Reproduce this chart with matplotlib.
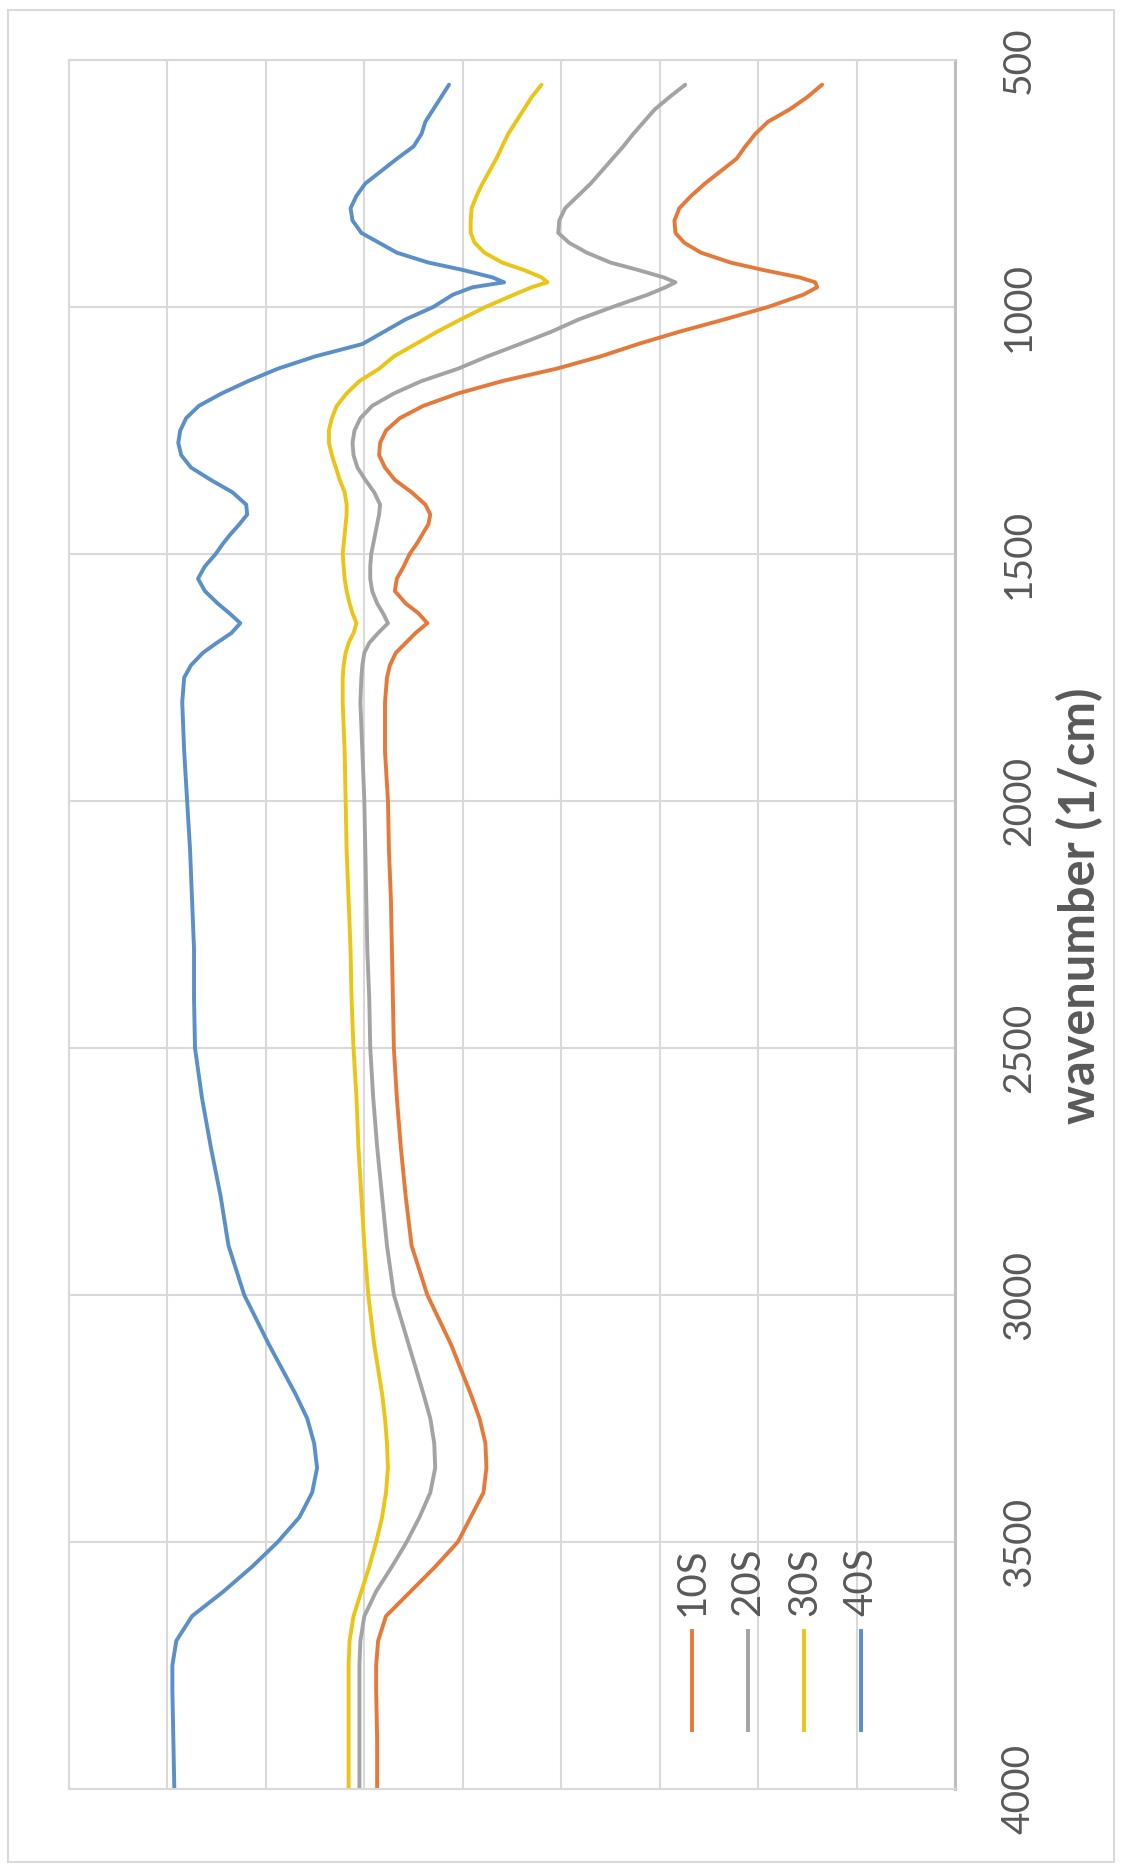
import matplotlib
matplotlib.use('Agg')
import matplotlib.pyplot as plt
from matplotlib.patches import Rectangle

plt.rcParams['font.family'] = ['Lato', 'DejaVu Sans']

# FTIR spectra, wavenumber (1/cm) vs transmittance (%)
wavenumber = [
    550, 575, 600, 625, 650, 675, 700, 725, 750, 775, 800, 825, 850,
    870, 890, 910, 925, 940, 950, 960, 975,
    1000, 1025, 1050, 1075, 1100, 1125, 1150, 1175, 1200, 1225, 1250, 1275, 1300, 1325, 1350, 1375, 1400,
    1420, 1440, 1460, 1480, 1500, 1525, 1550, 1575, 1600, 1620, 1640, 1660, 1680, 1700, 1725,
    1750, 1800, 1900, 2000, 2100, 2200, 2300, 2400, 2500, 2600, 2700, 2800, 2900, 3000,
    3100, 3200, 3250, 3300, 3350, 3400, 3450, 3500, 3550, 3600, 3650, 3700, 3750, 3800, 3900, 4000,
]

t_10s = [
    13.5, 15.0, 16.8, 19.0, 20.3, 21.3, 22.2, 23.8, 25.4, 26.8, 28.0, 28.5, 28.4,
    27.5, 25.8, 22.8, 19.5, 15.8, 14.2, 14.0, 15.4,
    19.0, 23.4, 28.0, 32.2, 36.0, 40.5, 46.0, 50.5, 54.0, 56.4, 57.8, 58.4, 58.5, 57.9, 56.9, 55.2, 53.8,
    53.3, 53.5, 54.1, 54.7, 55.4, 56.0, 56.7, 56.9, 55.8, 54.5, 53.6, 54.8, 55.8, 56.8, 57.4,
    57.7, 57.9, 57.9, 57.6, 57.5, 57.3, 57.2, 57.1, 57.0, 56.7, 56.3, 55.8, 55.2, 53.6,
    51.2, 49.2, 48.3, 47.7, 47.6, 47.9, 49.2, 50.5, 52.8, 55.3, 57.8, 58.6, 58.8, 58.8, 58.7, 58.7,
]

t_20s = [
    27.4, 29.0, 30.5, 31.6, 32.7, 33.7, 34.8, 35.9, 37.0, 38.3, 39.6, 40.2, 40.3,
    39.2, 37.4, 35.0, 32.2, 29.6, 28.4, 29.4, 31.2,
    34.8, 38.2, 41.0, 44.2, 47.5, 50.5, 54.2, 57.0, 59.2, 60.4, 61.0, 61.2, 61.1, 60.7, 59.9, 59.0, 58.4,
    58.5, 58.7, 58.9, 59.1, 59.3, 59.4, 59.4, 59.2, 58.7, 58.1, 57.6, 58.6, 59.5, 60.0, 60.2,
    60.3, 60.4, 60.2, 60.0, 59.9, 59.8, 59.7, 59.5, 59.4, 59.1, 58.7, 58.2, 57.7, 57.0,
    55.5, 54.0, 53.3, 52.9, 52.8, 53.3, 54.4, 55.7, 57.2, 58.8, 60.0, 60.4, 60.5, 60.5, 60.5, 60.5,
]

t_30s = [
    42.0, 43.0, 43.8, 44.6, 45.4, 46.0, 46.6, 47.3, 48.0, 48.6, 49.1, 49.2, 49.2,
    48.8, 47.8, 46.0, 43.8, 42.0, 41.4, 43.0, 44.8,
    47.7, 50.2, 52.6, 54.8, 57.0, 58.5, 60.5, 61.8, 62.8, 63.3, 63.6, 63.6, 63.3, 62.9, 62.5, 62.0, 61.8,
    61.8, 61.9, 62.0, 62.1, 62.2, 62.1, 62.0, 61.8, 61.5, 61.2, 60.8, 61.1, 61.6, 61.9, 62.1,
    62.2, 62.2, 62.0, 61.9, 61.8, 61.6, 61.4, 61.3, 61.1, 60.8, 60.6, 60.3, 60.0, 59.6,
    59.0, 58.2, 57.9, 57.7, 57.6, 57.8, 58.2, 58.8, 59.5, 60.3, 61.1, 61.5, 61.6, 61.6, 61.6, 61.6,
]

t_40s = [
    51.4, 52.2, 53.0, 53.8, 54.2, 55.0, 56.7, 58.3, 59.9, 60.8, 61.4, 61.2, 60.3,
    58.5, 56.7, 53.5, 50.0, 47.0, 45.8, 49.0, 51.0,
    53.0, 55.8, 58.0, 60.2, 65.0, 68.8, 71.8, 74.5, 76.8, 78.1, 78.7, 78.9, 78.6, 77.6, 75.6, 73.4, 72.0,
    71.9, 72.7, 73.6, 74.4, 75.1, 76.2, 76.9, 76.2, 74.9, 73.7, 72.6, 73.5, 75.0, 76.4, 77.6,
    78.3, 78.5, 78.3, 78.0, 77.7, 77.5, 77.3, 77.3, 77.2, 76.5, 75.6, 74.6, 73.8, 72.2,
    69.7, 67.0, 65.8, 65.1, 64.8, 65.3, 66.6, 68.8, 71.4, 74.3, 77.5, 79.1, 79.5, 79.5, 79.4, 79.3,
]

series_names = ['10S', '20S', '30S', '40S']
series_values = [t_10s, t_20s, t_30s, t_40s]
colors = ['#E5793A', '#A3A3A3', '#EBC415', '#5A8FC8']

wn_ticks = [500, 1000, 1500, 2000, 2500, 3000, 3500, 4000]
t_grid = [0, 10, 20, 30, 40, 50, 60, 70, 80, 90]

text_grey = '#595959'
grid_grey = '#D9D9D9'

fig = plt.figure(figsize=(11.28, 18.72), dpi=100)
ax = fig.add_axes([69 / 1128, 1 - 1789 / 1872, 886 / 1128, 1729 / 1872])

# chart is laid out sideways: wavenumber runs down the page, transmittance across
for name, vals, c in zip(series_names, series_values, colors):
    ax.plot(vals, wavenumber, color=c, lw=2.8, solid_capstyle='round', label=name)

ax.set_ylim(4000, 500)
ax.set_xlim(90, 0)
ax.set_yticks(wn_ticks)
ax.set_xticks(t_grid)
ax.grid(True, color=grid_grey, lw=1.5)
ax.set_axisbelow(True)

ax.yaxis.tick_right()
ax.tick_params(axis='y', length=0, pad=33, labelsize=28, labelcolor=text_grey, labelrotation=90)
for lbl in ax.get_yticklabels():
    lbl.set_va('center')
ax.tick_params(axis='x', length=0, labelbottom=False)

for side in ['left', 'top', 'bottom']:
    ax.spines[side].set_color(grid_grey)
    ax.spines[side].set_linewidth(1.5)
ax.spines['right'].set_color('#BFBFBF')
ax.spines['right'].set_linewidth(2.2)

ax.yaxis.set_label_position('right')
ax.set_ylabel('wavenumber (1/cm)', fontsize=35, fontweight='bold', color=text_grey, rotation=90)
ax.yaxis.label.set_va('center')
ax.yaxis.set_label_coords(1.141, 0.511)

# legend, turned with the rest of the chart
for i, (name, c) in enumerate(zip(series_names, colors)):
    lx = 0.703 + i * 0.0635
    ax.plot([lx, lx], [0.034, 0.0914], transform=ax.transAxes, color=c, lw=2.8, clip_on=False)
    ax.text(lx, 0.100, name, transform=ax.transAxes, rotation=90, rotation_mode='anchor',
            ha='left', va='center', fontsize=29, color=text_grey)

fig.patches.append(Rectangle((8 / 1128, 10 / 1872), 1106 / 1128, 1852 / 1872,
                             transform=fig.transFigure, fill=False, edgecolor=grid_grey, lw=1.5))

fig.savefig('out.png', dpi=100)
